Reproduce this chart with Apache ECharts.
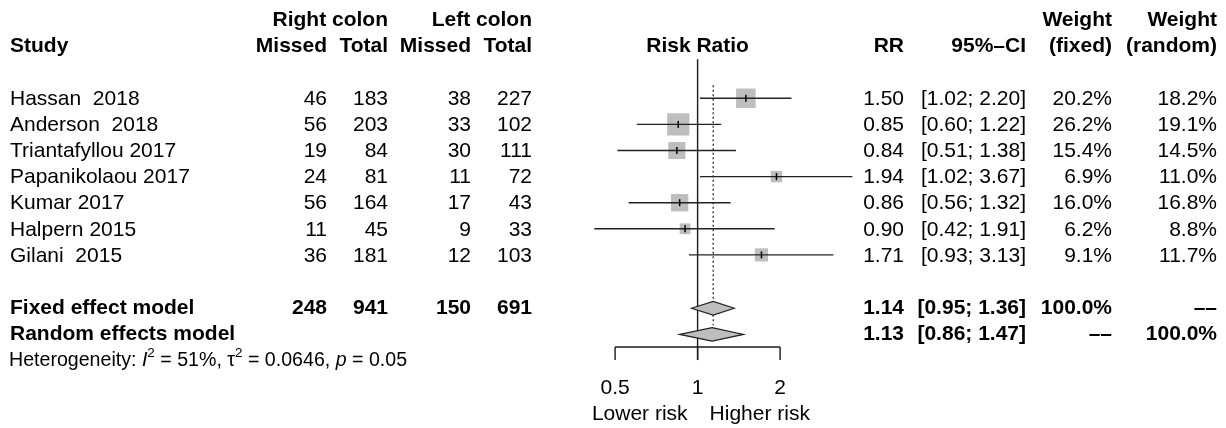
<!DOCTYPE html>
<html><head><meta charset="utf-8">
<script src="https://cdn.jsdelivr.net/npm/echarts@6/dist/echarts.min.js"></script>
<style>html,body{margin:0;padding:0;background:#fff}#c{width:1226px;height:428px}</style>
</head><body><div id="c"></div>
<script>
// ---- data ----
const studies = ['Hassan  2018','Anderson  2018','Triantafyllou 2017','Papanikolaou 2017','Kumar 2017','Halpern 2015','Gilani  2015'];
const rightMissed = [46,56,19,24,56,11,36];
const rightTotal = [183,203,84,81,164,45,181];
const leftMissed = [38,33,30,11,17,9,12];
const leftTotal = [227,102,111,72,43,33,103];
const rr = [1.50,0.85,0.84,1.94,0.86,0.90,1.71];
const ciLow = [1.02,0.60,0.51,1.02,0.56,0.42,0.93];
const ciHigh = [2.20,1.22,1.38,3.67,1.32,1.91,3.13];
const weightFixed = [20.2,26.2,15.4,6.9,16.0,6.2,9.1];
const weightRandom = [18.2,19.1,14.5,11.0,16.8,8.8,11.7];

const pooledLabels = ['Fixed effect model','Random effects model'];
const pooledRR = [1.14,1.13];
const pooledLow = [0.95,0.86];
const pooledHigh = [1.36,1.47];
const pooledWeightFixed = ['100.0%','--'];
const pooledWeightRandom = ['--','100.0%'];
const totalsRight = [248,941];
const totalsLeft = [150,691];
const hetI2 = '51%', hetTau2 = '0.0646', hetP = '0.05';

const axisTicks = [0.5,1,2];
const axisTickLabels = ['0.5','1','2'];
const sideLabels = ['Lower risk','Higher risk'];

// ---- layout ----
const FONT = 'Liberation Sans';
const FS = 21;
const HFS = 19.6;
const DY = 1;
const COL = {study:10, rMissed:327, rTotal:388, lMissed:471, lTotal:532, rr:904, ci:1026, wf:1112, wr:1217};
const DASH = '\u2013\u2013';
const LINE = '#1a1a1a';

function txt(x, y, s, align, bold, size) {
  return {type:'text', x:x, y:y, style:{text:s, fill:'#000', fontSize:size||FS, fontFamily:FONT,
    fontWeight:bold?'bold':'normal', align:align||'left', verticalAlign:'middle'}};
}
function fmtW(w){ return (w==='--') ? DASH : w; }

const chart = echarts.init(document.getElementById('c'));
const nS = studies.length;
const pooledRow = j => nS + 1 + j;

const option = {
  animation:false,
  backgroundColor:'#fff',
  grid:{left:532.6, width:330, top:6.95, height:417.6},
  xAxis:{type:'log', logBase:2, min:0.25, max:4, show:false},
  yAxis:{type:'value', inverse:true, min:-3.5, max:12.5, show:false},
  series:[
    // header
    {type:'custom', data:[[1,-2]], renderItem:function(p, api){
      const y1 = api.coord([1,-3])[1] + 0.5;
      const y2 = api.coord([1,-2])[1];
      const cx = api.coord([1,-2])[0];
      return {type:'group', children:[
        txt(COL.rTotal,y1,'Right colon','right',true),
        txt(COL.lTotal,y1,'Left colon','right',true),
        txt(COL.wf,y1,'Weight','right',true),
        txt(COL.wr,y1,'Weight','right',true),
        txt(COL.study,y2,'Study','left',true),
        txt(COL.rMissed,y2,'Missed','right',true),
        txt(COL.rTotal,y2,'Total','right',true),
        txt(COL.lMissed,y2,'Missed','right',true),
        txt(COL.lTotal,y2,'Total','right',true),
        txt(cx,y2,'Risk Ratio','center',true),
        txt(COL.rr,y2,'RR','right',true),
        txt(COL.ci,y2,'95%\u2013CI','right',true),
        txt(COL.wf,y2,'(fixed)','right',true),
        txt(COL.wr,y2,'(random)','right',true)
      ]};
    }},
    // reference line at 1 (solid) and axis
    {type:'custom', data:[[1,0]], renderItem:function(p, api){
      const top = api.coord([1,-1.5]);
      const bot = api.coord([1,10.03]);
      const axY = api.coord([1,9.53])[1];
      const a0 = api.coord([axisTicks[0],9.53])[0];
      const a1 = api.coord([axisTicks[axisTicks.length-1],9.53])[0];
      const labY = api.coord([1,11.05])[1] + DY;
      const sideY = api.coord([1,12.07])[1] + DY;
      const ch = [
        {type:'line', shape:{x1:top[0],y1:top[1],x2:bot[0],y2:bot[1]}, style:{stroke:LINE,lineWidth:1.4}},
        {type:'line', shape:{x1:a0,y1:axY,x2:a1,y2:axY}, style:{stroke:LINE,lineWidth:1.4}}
      ];
      axisTicks.forEach((t,k)=>{
        const x = api.coord([t,9.53])[0];
        ch.push({type:'line', shape:{x1:x,y1:axY,x2:x,y2:bot[1]}, style:{stroke:LINE,lineWidth:1.4}});
        ch.push(txt(x,labY,axisTickLabels[k],'center',false));
      });
      ch.push(txt(top[0]-10, sideY, sideLabels[0], 'right', false));
      ch.push(txt(top[0]+12, sideY, sideLabels[1], 'left', false));
      return {type:'group', children:ch};
    }},
    // fixed effect dotted line
    {type:'custom', data:[[pooledRR[0],0]], renderItem:function(p, api){
      const a = api.coord([pooledRR[0],-0.5]);
      const b = api.coord([pooledRR[0],8.7]);
      return {type:'line', shape:{x1:a[0],y1:a[1],x2:b[0],y2:b[1]}, style:{stroke:LINE,lineWidth:1.2,lineDash:[2,2.5]}};
    }},
    // studies
    {type:'custom', data:rr.map((v,i)=>[v,i,ciLow[i],ciHigh[i],weightFixed[i]]), renderItem:function(p, api){
      const i = p.dataIndex;
      const c = api.coord([rr[i], i]);
      const lo = api.coord([ciLow[i], i]);
      const hi = api.coord([ciHigh[i], i]);
      const s = 4.35*Math.sqrt(weightFixed[i]);
      return {type:'group', children:[
        {type:'rect', shape:{x:c[0]-s/2, y:c[1]-s/2, width:s, height:s}, style:{fill:'#bebebe'}},
        {type:'line', shape:{x1:lo[0],y1:c[1],x2:hi[0],y2:c[1]}, style:{stroke:'#222',lineWidth:1.4}},
        {type:'line', shape:{x1:c[0],y1:c[1]-3.5,x2:c[0],y2:c[1]+3.5}, style:{stroke:'#000',lineWidth:1.5}}
      ]};
    }},
    // diamonds
    {type:'custom', data:pooledRR.map((v,j)=>[v,pooledRow(j)]), renderItem:function(p, api){
      const j = p.dataIndex, r = pooledRow(j);
      const c = api.coord([pooledRR[j], r]);
      const lo = api.coord([pooledLow[j], r]);
      const hi = api.coord([pooledHigh[j], r]);
      const yc = c[1] + 1.2, h = 6.8;
      return {type:'polygon', shape:{points:[[lo[0],yc],[c[0],yc-h],[hi[0],yc],[c[0],yc+h]]},
        style:{fill:'#bebebe', stroke:'#222', lineWidth:1.2}};
    }},
    // study table text
    {type:'custom', data:studies.map((s,i)=>[1,i]), renderItem:function(p, api){
      const i = p.dataIndex;
      const y = api.coord([1,i])[1] + DY;
      return {type:'group', children:[
        txt(COL.study,y,studies[i],'left'),
        txt(COL.rMissed,y,String(rightMissed[i]),'right'),
        txt(COL.rTotal,y,String(rightTotal[i]),'right'),
        txt(COL.lMissed,y,String(leftMissed[i]),'right'),
        txt(COL.lTotal,y,String(leftTotal[i]),'right'),
        txt(COL.rr,y,rr[i].toFixed(2),'right'),
        txt(COL.ci,y,'['+ciLow[i].toFixed(2)+'; '+ciHigh[i].toFixed(2)+']','right'),
        txt(COL.wf,y,weightFixed[i].toFixed(1)+'%','right'),
        txt(COL.wr,y,weightRandom[i].toFixed(1)+'%','right')
      ]};
    }},
    // pooled text
    {type:'custom', data:pooledLabels.map((s,j)=>[1,pooledRow(j)]), renderItem:function(p, api){
      const j = p.dataIndex;
      const y = api.coord([1,pooledRow(j)])[1] + DY;
      const ch = [
        txt(COL.study,y,pooledLabels[j],'left',true),
        txt(COL.rr,y,pooledRR[j].toFixed(2),'right',true),
        txt(COL.ci,y,'['+pooledLow[j].toFixed(2)+'; '+pooledHigh[j].toFixed(2)+']','right',true),
        txt(COL.wf,y,fmtW(pooledWeightFixed[j]),'right',true),
        txt(COL.wr,y,fmtW(pooledWeightRandom[j]),'right',true)
      ];
      if (j===0) {
        ch.push(txt(COL.rMissed,y,String(totalsRight[0]),'right',true));
        ch.push(txt(COL.rTotal,y,String(totalsRight[1]),'right',true));
        ch.push(txt(COL.lMissed,y,String(totalsLeft[0]),'right',true));
        ch.push(txt(COL.lTotal,y,String(totalsLeft[1]),'right',true));
      }
      return {type:'group', children:ch};
    }},
    // heterogeneity
    {type:'custom', data:[[1,pooledRow(2)]], renderItem:function(p, api){
      const y = api.coord([1,pooledRow(2)])[1] + DY;
      return {type:'text', x:COL.study - 1, y:y, style:{
        text:'{n|Heterogeneity: }{it|I}{sup|2}{n| = '+hetI2+', \u03c4}{sup|2}{n| = '+hetTau2+', }{it|p}{n| = '+hetP+'}',
        fill:'#000', fontSize:HFS, fontFamily:FONT, align:'left', verticalAlign:'middle',
        rich:{
          n:{fontSize:HFS, fontFamily:FONT, fill:'#000', lineHeight:28, verticalAlign:'middle'},
          it:{fontSize:HFS, fontFamily:FONT, fontStyle:'italic', fill:'#000', lineHeight:28, verticalAlign:'middle'},
          sup:{fontSize:13.5, fontFamily:FONT, fill:'#000', lineHeight:13.5, verticalAlign:'top'}
        }}};
    }}
  ]
};
chart.setOption(option);
</script></body></html>
